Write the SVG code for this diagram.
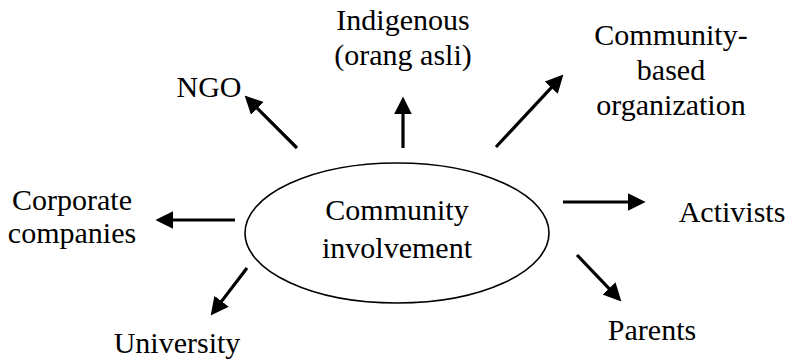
<svg xmlns="http://www.w3.org/2000/svg" width="789" height="360" viewBox="0 0 789 360">
<style>
.t{font-family:"Liberation Serif","Times New Roman",serif;font-size:30px;fill:#000;text-anchor:middle}
.c line{stroke:#000;stroke-width:3.2;marker-end:url(#ah)}
</style>
<defs>
<marker id="ah" markerUnits="userSpaceOnUse" markerWidth="18" markerHeight="18" viewBox="0 0 17 17" refX="7" refY="8.5" orient="auto">
<path d="M0,0 L17,8.5 L0,17 z" fill="#000"/>
</marker>
</defs>
<rect width="789" height="360" fill="#fff"/>
<g id="center">
<ellipse cx="397" cy="233" rx="152" ry="70" fill="none" stroke="#000" stroke-width="1.6"/>
<text class="t" x="397" y="220">Community</text>
<text class="t" x="397" y="258">involvement</text>
</g>
<g id="ngo"><text class="t" x="209" y="97">NGO</text></g>
<g id="indigenous"><text class="t" x="403" y="30">Indigenous</text><text class="t" x="403" y="65">(orang asli)</text></g>
<g id="cbo"><text class="t" x="671" y="45">Community-</text><text class="t" x="671" y="80">based</text><text class="t" x="671" y="115">organization</text></g>
<g id="corporate"><text class="t" x="72" y="210">Corporate</text><text class="t" x="72" y="243">companies</text></g>
<g id="activists"><text class="t" x="732" y="222">Activists</text></g>
<g id="parents"><text class="t" x="652" y="340">Parents</text></g>
<g id="university"><text class="t" x="177" y="353">University</text></g>
<g class="c" id="connectors">
<line x1="297" y1="148" x2="252.1" y2="103.1"/>
<line x1="403" y1="148" x2="403" y2="107"/>
<line x1="496" y1="147" x2="556.2" y2="82.3"/>
<line x1="235" y1="220" x2="166" y2="220"/>
<line x1="563" y1="202" x2="635" y2="202"/>
<line x1="577" y1="255" x2="614.1" y2="293.8"/>
<line x1="247" y1="268" x2="217.1" y2="307.1"/>
</g>
</svg>
